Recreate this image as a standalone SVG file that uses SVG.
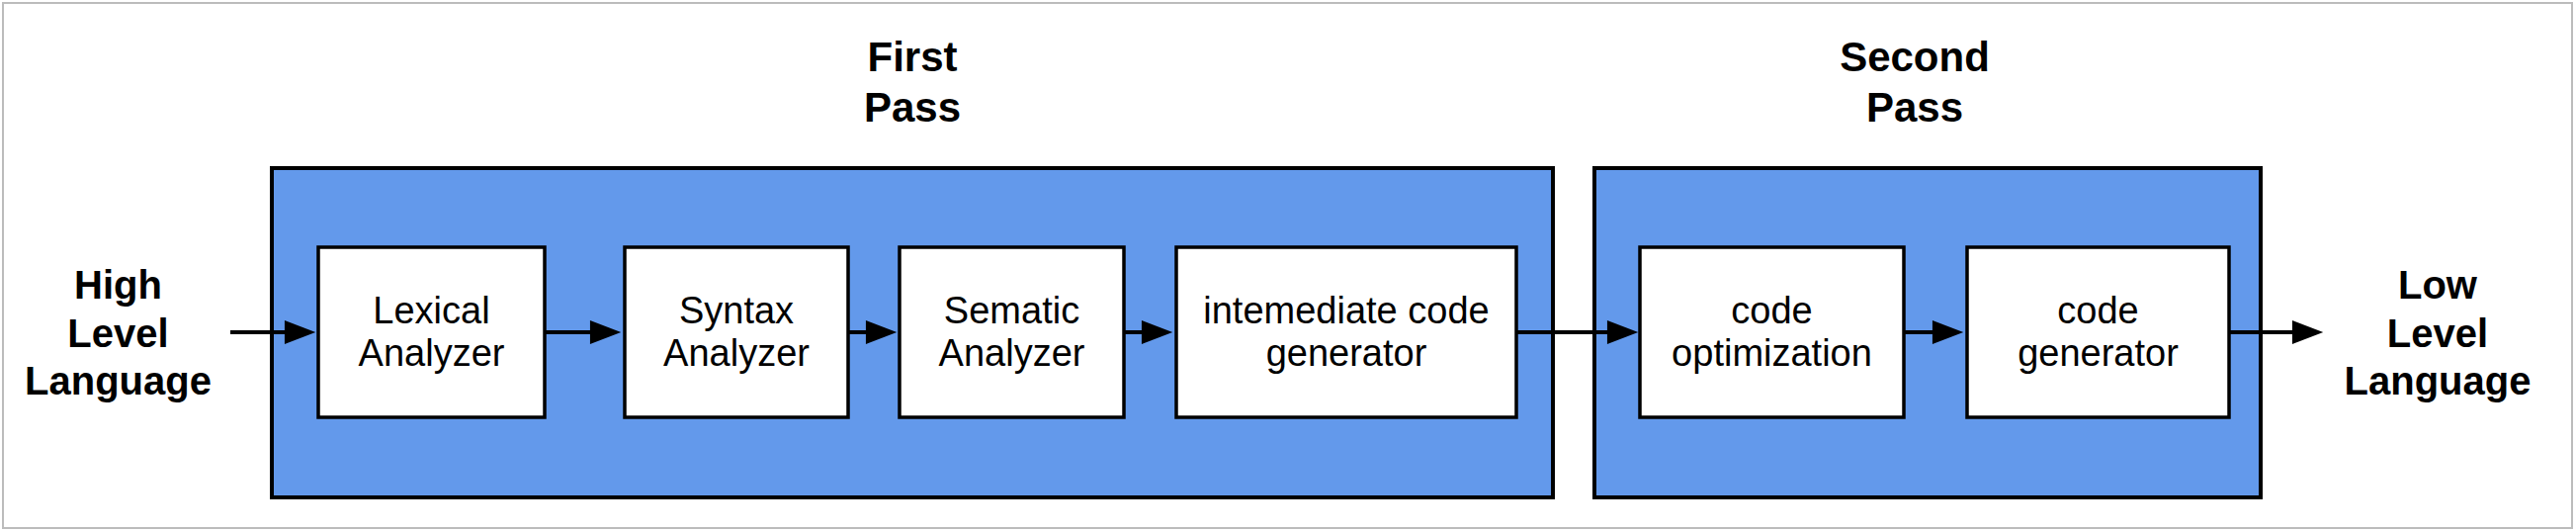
<svg xmlns="http://www.w3.org/2000/svg" width="2606" height="538" viewBox="0 0 2606 538">
  <defs>
    <style>
      .frame { fill: #ffffff; stroke: #bcbcbc; stroke-width: 2; }
      .group { fill: #6399EB; stroke: #000000; stroke-width: 4; }
      .box { fill: #ffffff; stroke: #000000; stroke-width: 3.5; }
      .lbl { font-family: "Liberation Sans", Arial, Helvetica, sans-serif; font-size: 38px; fill: #000000; text-anchor: middle; }
      .io { font-family: "Liberation Sans", Arial, Helvetica, sans-serif; font-size: 40px; font-weight: bold; fill: #000000; text-anchor: middle; }
      .title { font-family: "Liberation Sans", Arial, Helvetica, sans-serif; font-size: 42px; font-weight: bold; fill: #000000; text-anchor: middle; }
      .conn { stroke: #000000; stroke-width: 4; fill: none; }
    </style>
    <marker id="arrow" markerUnits="userSpaceOnUse" markerWidth="32" markerHeight="24" viewBox="0 0 30 23" refX="2" refY="11.5" orient="auto" overflow="visible">
      <path d="M0,0 L30,11.5 L0,23 Z" fill="#000000"/>
    </marker>
  </defs>

  <rect class="frame" x="3" y="3" width="2599" height="531"/>

  <g id="first-pass">
    <rect class="group" x="275" y="170" width="1296" height="333"/>
    <text class="title" x="923" y="72">First</text>
    <text class="title" x="923" y="123">Pass</text>
  </g>

  <g id="second-pass">
    <rect class="group" x="1613" y="170" width="674" height="333"/>
    <text class="title" x="1937" y="72">Second</text>
    <text class="title" x="1937" y="123">Pass</text>
  </g>

  <g id="high-level-language">
    <text class="io" x="119.5" y="302">High</text>
    <text class="io" x="119.5" y="351">Level</text>
    <text class="io" x="119.5" y="399">Language</text>
  </g>

  <g id="lexical-analyzer">
    <rect class="box" x="322" y="250" width="229" height="172"/>
    <text class="lbl" x="436.5" y="327">Lexical</text>
    <text class="lbl" x="436.5" y="370">Analyzer</text>
  </g>

  <g id="syntax-analyzer">
    <rect class="box" x="632" y="250" width="226" height="172"/>
    <text class="lbl" x="745" y="327">Syntax</text>
    <text class="lbl" x="745" y="370">Analyzer</text>
  </g>

  <g id="sematic-analyzer">
    <rect class="box" x="910" y="250" width="227" height="172"/>
    <text class="lbl" x="1023.5" y="327">Sematic</text>
    <text class="lbl" x="1023.5" y="370">Analyzer</text>
  </g>

  <g id="intermediate-code-generator">
    <rect class="box" x="1190" y="250" width="344" height="172"/>
    <text class="lbl" x="1362" y="327">intemediate code</text>
    <text class="lbl" x="1362" y="370">generator</text>
  </g>

  <g id="code-optimization">
    <rect class="box" x="1659" y="250" width="267" height="172"/>
    <text class="lbl" x="1792.5" y="327">code</text>
    <text class="lbl" x="1792.5" y="370">optimization</text>
  </g>

  <g id="code-generator">
    <rect class="box" x="1990" y="250" width="265" height="172"/>
    <text class="lbl" x="2122.5" y="327">code</text>
    <text class="lbl" x="2122.5" y="370">generator</text>
  </g>

  <g id="low-level-language">
    <text class="io" x="2466" y="302">Low</text>
    <text class="io" x="2466" y="351">Level</text>
    <text class="io" x="2466" y="399">Language</text>
  </g>

  <g id="connectors">
    <line class="conn" x1="233" y1="336" x2="290" y2="336" marker-end="url(#arrow)"/>
    <line class="conn" x1="551" y1="336" x2="599" y2="336" marker-end="url(#arrow)"/>
    <line class="conn" x1="858" y1="336" x2="878" y2="336" marker-end="url(#arrow)"/>
    <line class="conn" x1="1137" y1="336" x2="1157" y2="336" marker-end="url(#arrow)"/>
    <line class="conn" x1="1534" y1="336" x2="1628" y2="336" marker-end="url(#arrow)"/>
    <line class="conn" x1="1926" y1="336" x2="1957" y2="336" marker-end="url(#arrow)"/>
    <line class="conn" x1="2255" y1="336" x2="2321" y2="336" marker-end="url(#arrow)"/>
  </g>
</svg>
